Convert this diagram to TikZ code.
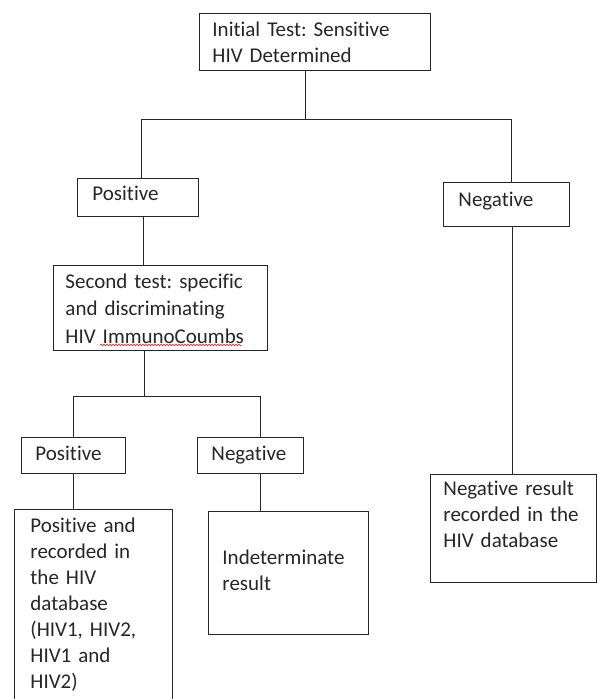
\documentclass[tikz,border=0pt]{standalone}
\usepackage{fontspec}
\setmainfont{Carlito}[Ligatures=NoCommon]
\frenchspacing
\usetikzlibrary{decorations.pathmorphing}

\begin{document}
\begin{tikzpicture}[x=1pt, y=-1pt, line width=0.9pt, color=black!85]
  \tikzstyle{box}=[draw, rectangle, anchor=north west, align=left, inner ysep=0pt,
    font=\fontsize{21}{26}\selectfont]
  \tikzstyle{spellwave}=[red, line width=0.5pt, decorate,
    decoration={snake, amplitude=0.9pt, segment length=3pt}]

  \useasboundingbox (0,0) rectangle (597,699);

  \node[box, inner xsep=13pt, text width=205pt, text height=23pt, text depth=34pt] (init) at (199,13)
    {Initial Test: Sensitive\\ HIV Determined};

  \node[box, inner xsep=15pt, text width=91pt, text height=22pt, text depth=16pt] (pos1) at (77,178) {Positive};

  \node[box, inner xsep=15pt, text width=96pt, text height=24pt, text depth=20pt] (neg1) at (443,182) {Negative};

  \node[box, inner xsep=12pt, text width=190pt, text height=23pt, text depth=62pt,
    font=\fontsize{21}{27.5}\selectfont] (test2) at (53,265)
    {Second test: specific\\ and discriminating\\ HIV ImmunoCoumbs};
  % spell check mark under the last word
  \draw[spellwave] ([shift={(47,80)}]test2.north west) -- ([shift={(189,80)}]test2.north west);

  \node[box, inner xsep=14pt, text width=76pt, text height=23pt, text depth=13pt] (pos2) at (21,437) {Positive};

  \node[box, inner xsep=14pt, text width=78pt, text height=23pt, text depth=13pt] (neg2) at (197,437) {Negative};

  \node[box, inner xsep=16pt, text width=126pt, text height=23pt, text depth=200pt] (respos) at (14,509)
    {Positive and\\ recorded in\\ the HIV\\ database\\ (HIV1, HIV2,\\ HIV1 and\\ HIV2)};

  \node[box, inner xsep=14pt, text width=132pt, text height=53pt, text depth=70pt] (indet) at (208,511)
    {Indeterminate\\ result};

  \node[box, inner xsep=13pt, text width=140pt, text height=21pt, text depth=87pt] (resneg) at (430,474)
    {Negative result\\ recorded in the\\ HIV database};

  % first split
  \draw ([xshift=-9.5pt]init.south) -- ++(0,49) coordinate (s1);
  \draw ([xshift=3.5pt]pos1.north) |- (s1) -| ([xshift=5pt]neg1.north);
  \draw ([xshift=5.5pt]pos1.south) -- ([xshift=5.5pt]pos1.south |- test2.north);
  \draw ([xshift=6pt]neg1.south) -- ([xshift=6pt]neg1.south |- resneg.north);

  % second split
  \draw ([xshift=-16pt]test2.south) -- ++(0,46) coordinate (s2);
  \draw (pos2.north) |- (s2) -| ([xshift=10pt]neg2.north);
  \draw (pos2.south) -- (pos2.south |- respos.north);
  \draw ([xshift=10pt]neg2.south) -- ([xshift=10pt]neg2.south |- indet.north);
\end{tikzpicture}
\end{document}
